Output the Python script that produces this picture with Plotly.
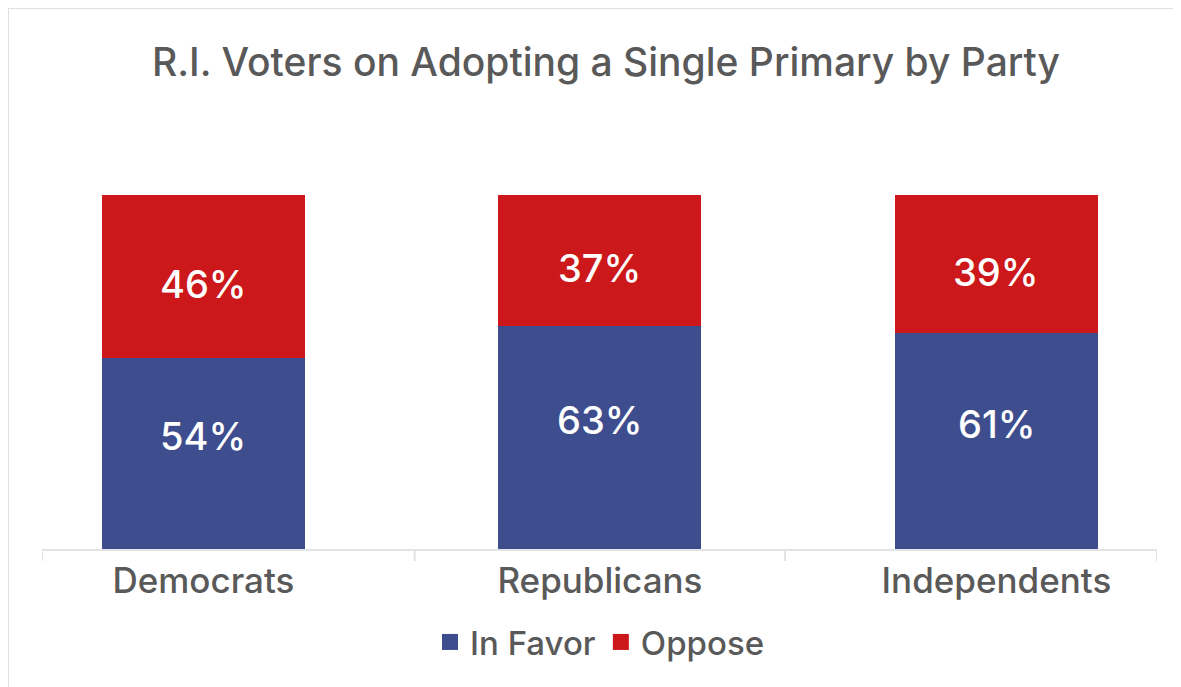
import plotly.graph_objects as go

categories = ["Democrats", "Republicans", "Independents"]
in_favor = [54, 63, 61]
oppose = [46, 37, 39]
series_names = ["In Favor", "Oppose"]

BLUE = "#3E4D8E"
RED = "#CC181A"
GREY_TXT = "#595959"
FONT = "Inter, Roboto, sans-serif"

OFF = 8  # page body margin
W, H = 1181, 687
L = 42 - OFF
T = 195 - OFF
R = W - (1157 - OFF)
B = H - (549 - OFF)
plot_w = W - L - R
plot_h = H - T - B

xpos = list(range(len(categories)))
x_range = [-0.407, 2.405]


def px(v):
    return (v - OFF - L) / plot_w


def py(v):
    return (H - B - (v - OFF)) / plot_h


fig = go.Figure()
colors = [BLUE, RED]
for name, vals, col in zip(series_names, [in_favor, oppose], colors):
    fig.add_trace(go.Bar(x=xpos, y=vals, name=name, marker_color=col,
                         width=0.512, marker_line_width=0, showlegend=False))
for name, col in zip(series_names, colors):
    fig.add_trace(go.Scatter(x=[None], y=[None], mode="markers", name=name,
                             marker=dict(symbol="square", size=20, color=col)))

annotations = []
for i, (f, o) in enumerate(zip(in_favor, oppose)):
    annotations.append(dict(x=i, y=f / 2, xref="x", yref="y", text=f"{f}%",
                            showarrow=False, yshift=17,
                            font=dict(family=FONT, size=38, color="white", weight=500)))
    annotations.append(dict(x=i, y=f + o / 2, xref="x", yref="y", text=f"{o}%",
                            showarrow=False, yshift=-8,
                            font=dict(family=FONT, size=38, color="white", weight=500)))

shapes = []
for b in [x_range[0], 0.533, 1.467, x_range[1]]:
    shapes.append(dict(type="line", xref="x", yref="paper", x0=b, x1=b,
                       y0=0, y1=-12 / plot_h, line=dict(color="#E3E3E3", width=2)))
shapes.append(dict(type="path", xref="paper", yref="paper",
                   path=f"M {px(8)} {py(700)} L {px(8)} {py(8)} L {px(1200)} {py(8)}",
                   line=dict(color="#E0E0E0", width=2)))

fig.update_layout(
    width=W, height=H,
    margin=dict(l=L, r=R, t=T, b=B, pad=0, autoexpand=False),
    barmode="stack",
    paper_bgcolor="white", plot_bgcolor="white",
    title=dict(text="R.I. Voters on Adopting a Single Primary by Party",
               x=(606 - OFF) / W, xanchor="center", y=1 - (62 - OFF) / H, yanchor="middle",
               font=dict(family=FONT, size=39, color=GREY_TXT, weight=500)),
    xaxis=dict(range=x_range, tickvals=xpos, ticktext=categories, showgrid=False,
               zeroline=False, showline=True, linecolor="#E3E3E3", linewidth=2,
               ticks="", tickangle=0, automargin=False,
               tickfont=dict(family=FONT, size=35, color=GREY_TXT, weight=500)),
    yaxis=dict(range=[0, 100], visible=False, showgrid=False, zeroline=False),
    legend=dict(orientation="h", x=px(600), xanchor="center",
                y=py(642), yanchor="middle",
                font=dict(family=FONT, size=33, color=GREY_TXT, weight=500),
                itemwidth=30, traceorder="normal"),
    annotations=annotations,
    shapes=shapes,
)

fig.write_html("out.html")
